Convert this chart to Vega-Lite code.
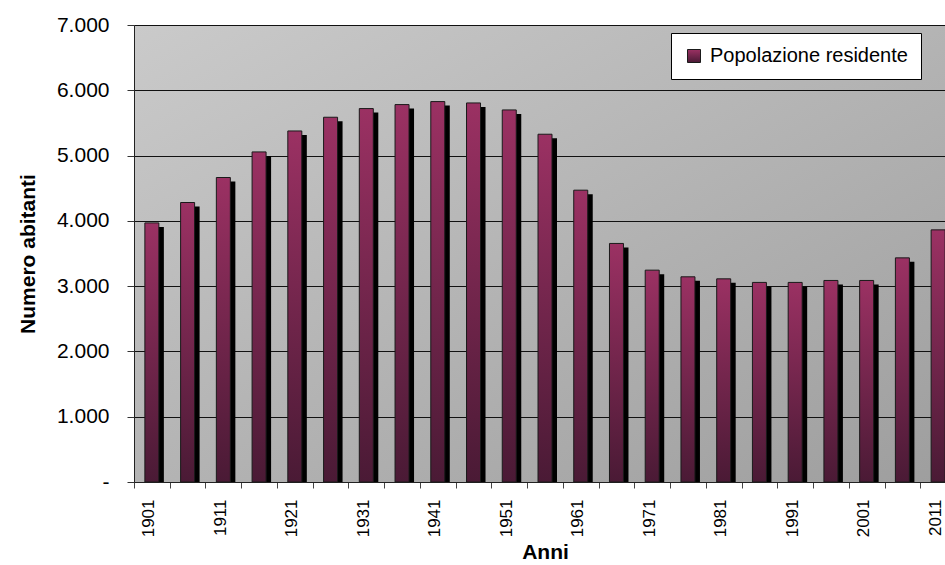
{
  "$schema": "https://vega.github.io/schema/vega-lite/v6.json",
  "width": 811,
  "height": 457,
  "autosize": {"type": "none"},
  "padding": {"left": 134, "top": 25, "right": 0, "bottom": 83},
  "background": "white",
  "config": {
    "font": "Liberation Sans",
    "view": {
      "stroke": null,
      "fill": {
        "gradient": "linear", "x1": 0, "y1": 0, "x2": 1, "y2": 1,
        "stops": [{"offset": 0, "color": "#cacaca"}, {"offset": 1, "color": "#9e9e9e"}]
      }
    },
    "axis": {"labelColor": "black", "titleColor": "black", "labelFont": "Liberation Sans", "titleFont": "Liberation Sans"}
  },
  "data": {
    "values": [
      {"anno": "1901", "abitanti": 3969},
      {"anno": "1906", "abitanti": 4281},
      {"anno": "1911", "abitanti": 4664},
      {"anno": "1916", "abitanti": 5056},
      {"anno": "1921", "abitanti": 5377},
      {"anno": "1926", "abitanti": 5587},
      {"anno": "1931", "abitanti": 5720},
      {"anno": "1936", "abitanti": 5781},
      {"anno": "1941", "abitanti": 5827},
      {"anno": "1946", "abitanti": 5806},
      {"anno": "1951", "abitanti": 5699},
      {"anno": "1956", "abitanti": 5327},
      {"anno": "1961", "abitanti": 4470},
      {"anno": "1966", "abitanti": 3654},
      {"anno": "1971", "abitanti": 3245},
      {"anno": "1976", "abitanti": 3143},
      {"anno": "1981", "abitanti": 3112},
      {"anno": "1986", "abitanti": 3057},
      {"anno": "1991", "abitanti": 3057},
      {"anno": "1996", "abitanti": 3087},
      {"anno": "2001", "abitanti": 3087},
      {"anno": "2006", "abitanti": 3433},
      {"anno": "2011", "abitanti": 3862}
    ]
  },
  "encoding": {
    "x": {
      "field": "anno", "type": "ordinal", "sort": null,
      "scale": {"type": "band", "paddingInner": 0, "paddingOuter": 0, "range": [0, 822]},
      "axis": {
        "title": "Anni", "labelAngle": -90, "labelFontSize": 17, "labelOffset": -3,
        "labelExpr": "(toNumber(datum.value) - 1901) % 10 == 0 ? datum.value : ''",
        "labelOverlap": false, "tickBand": "extent", "tickSize": 6, "tickColor": "#444",
        "labelPadding": 11, "titleFontSize": 21, "titleFontWeight": "bold", "titlePadding": 5,
        "domainColor": "#222", "grid": false
      }
    },
    "y": {
      "field": "abitanti", "type": "quantitative",
      "scale": {"domain": [0, 7000], "nice": false},
      "axis": {
        "title": "Numero abitanti",
        "values": [0, 1000, 2000, 3000, 4000, 5000, 6000, 7000],
        "labelExpr": "datum.value == 0 ? '-' : replace(format(datum.value, ','), ',', '.')",
        "labelFontSize": 21, "titleFontSize": 21, "titleFontWeight": "bold",
        "tickSize": 7, "tickColor": "#333", "domainColor": "#222",
        "labelPadding": 18, "titlePadding": 18,
        "grid": true, "gridColor": "#111", "gridOpacity": 1, "gridWidth": 1
      }
    }
  },
  "layer": [
    {
      "mark": {"type": "bar", "width": 14, "xOffset": 5, "yOffset": 4, "fill": "black", "clip": true}
    },
    {
      "mark": {
        "type": "bar", "width": 14, "strokeWidth": 1,
        "fill": {
          "gradient": "linear", "x1": 0, "y1": 0, "x2": 0, "y2": 1,
          "stops": [{"offset": 0, "color": "#9b3163"}, {"offset": 1, "color": "#4a1a35"}]
        }
      },
      "encoding": {
        "stroke": {
          "datum": "Popolazione residente",
          "scale": {"range": ["#1a1a1a"]},
          "legend": {
            "title": null, "orient": "none", "legendX": 537, "legendY": 8,
            "fillColor": "white", "strokeColor": "black", "padding": 13,
            "symbolType": "square", "symbolSize": 169, "symbolStrokeWidth": 1,
            "labelFontSize": 20, "labelColor": "black", "labelFont": "Liberation Sans", "labelOffset": 6,
            "labelLimit": 0, "cornerRadius": 0
          }
        }
      }
    }
  ]
}
